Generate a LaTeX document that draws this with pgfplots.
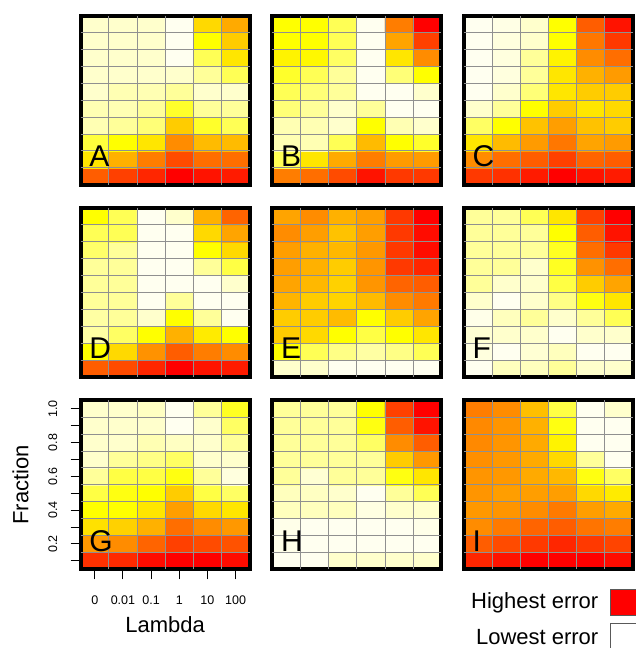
\documentclass[border=0pt]{standalone}
\usepackage{fontspec}
\setmainfont{Liberation Sans}
\usepackage{pgfplots}
\pgfplotsset{compat=1.18}
\definecolor{gridgray}{HTML}{909090}
\pgfplotsset{
 colormap={heat}{rgb255=(255,255,240) rgb255=(255,255,204) rgb255=(255,255,153) rgb255=(255,255,85) rgb255=(255,255,0) rgb255=(255,230,0) rgb255=(255,204,0) rgb255=(255,170,0) rgb255=(255,140,0) rgb255=(255,110,0) rgb255=(255,75,0) rgb255=(255,38,0) rgb255=(255,0,0)},
 panel/.style={
  anchor=south west, width=169pt, height=169pt, scale only axis,
  xmin=-0.5,xmax=5.5,ymin=-0.5,ymax=9.5,
  axis on top, axis line style={line width=4pt, black},
  xtick=\empty, ytick=\empty,
  extra x ticks={0.5,1.5,2.5,3.5,4.5},
  extra y ticks={0.5,1.5,2.5,3.5,4.5,5.5,6.5,7.5,8.5},
  extra x tick labels={}, extra y tick labels={},
  extra tick style={major tick length=0pt, grid=major},
  major grid style={gridgray, line width=0.9pt},
  colormap name=heat, point meta min=0, point meta max=12,
 },
 cells/.style={matrix plot*, mesh/cols=6, point meta=explicit},
}
\begin{document}
\begin{tikzpicture}
\path[use as bounding box] (0pt,0pt) rectangle (636pt,648pt);
% ---------- A ----------
\begin{axis}[panel, name=A, at={(80.7pt,463.3pt)}]
\addplot[cells] coordinates {
(0,0)[9.5] (1,0)[10.3] (2,0)[11] (3,0)[12] (4,0)[11.5] (5,0)[11.3]
(0,1)[5] (1,1)[6.8] (2,1)[8.5] (3,1)[10] (4,1)[9] (5,1)[9]
(0,2)[3.3] (1,2)[4] (2,2)[5] (3,2)[8] (4,2)[6.5] (5,2)[6.5]
(0,3)[1.5] (1,3)[2] (2,3)[2.5] (3,3)[6] (4,3)[3.5] (5,3)[3]
(0,4)[1.5] (1,4)[1.5] (2,4)[2] (3,4)[3.5] (4,4)[2] (5,4)[2]
(0,5)[1] (1,5)[1.5] (2,5)[1.5] (3,5)[2] (4,5)[1] (5,5)[1]
(0,6)[1] (1,6)[1] (2,6)[1] (3,6)[1] (4,6)[2] (5,6)[3]
(0,7)[1] (1,7)[1] (2,7)[1] (3,7)[0] (4,7)[3] (5,7)[5]
(0,8)[1] (1,8)[1] (2,8)[1] (3,8)[0] (4,8)[4] (5,8)[6]
(0,9)[1] (1,9)[1] (2,9)[1] (3,9)[0] (4,9)[5.5] (5,9)[7]
};
\end{axis}
% ---------- B ----------
\begin{axis}[panel, name=B, at={(272.3pt,463.3pt)}]
\addplot[cells] coordinates {
(0,0)[8.5] (1,0)[9] (2,0)[10] (3,0)[11.5] (4,0)[10.5] (5,0)[10.5]
(0,1)[3] (1,1)[5] (2,1)[7] (3,1)[8.5] (4,1)[7.5] (5,1)[7.5]
(0,2)[1.5] (1,2)[1.5] (2,2)[3] (3,2)[6.5] (4,2)[4] (5,2)[3.5]
(0,3)[1.5] (1,3)[1.5] (2,3)[1] (3,3)[4] (4,3)[1.5] (5,3)[1]
(0,4)[2.5] (1,4)[2] (2,4)[1] (3,4)[2] (4,4)[0] (5,4)[0]
(0,5)[3] (1,5)[2.5] (2,5)[2] (3,5)[0] (4,5)[0] (5,5)[1]
(0,6)[3.5] (1,6)[3] (2,6)[2] (3,6)[0] (4,6)[2.5] (5,6)[4]
(0,7)[4.5] (1,7)[4.3] (2,7)[2.8] (3,7)[0] (4,7)[5] (5,7)[8]
(0,8)[4] (1,8)[4] (2,8)[3] (3,8)[0] (4,8)[7.2] (5,8)[10.3]
(0,9)[4] (1,9)[4] (2,9)[3] (3,9)[0] (4,9)[8.5] (5,9)[12]
};
\end{axis}
% ---------- C ----------
\begin{axis}[panel, name=C, at={(463.9pt,463.3pt)}]
\addplot[cells] coordinates {
(0,0)[10.5] (1,0)[10.7] (2,0)[11.3] (3,0)[12] (4,0)[11.5] (5,0)[11.3]
(0,1)[8] (1,1)[9] (2,1)[9.5] (3,1)[10.3] (4,1)[9.3] (5,1)[9.5]
(0,2)[5] (1,2)[6.5] (2,2)[7.5] (3,2)[8.7] (4,2)[7.2] (5,2)[7.5]
(0,3)[2.8] (1,3)[4] (2,3)[6.3] (3,3)[7.4] (4,3)[6.3] (5,3)[6]
(0,4)[1] (1,4)[2] (2,4)[4] (3,4)[6] (4,4)[5] (5,4)[5.5]
(0,5)[0] (1,5)[1] (2,5)[2.5] (3,5)[5] (4,5)[6] (5,5)[6]
(0,6)[0] (1,6)[0.5] (2,6)[2] (3,6)[5] (4,6)[6.8] (5,6)[7.5]
(0,7)[0] (1,7)[0.5] (2,7)[2] (3,7)[4.5] (4,7)[8] (5,7)[9]
(0,8)[0] (1,8)[0.5] (2,8)[1] (3,8)[4] (4,8)[8.7] (5,8)[10.5]
(0,9)[0] (1,9)[0.3] (2,9)[1] (3,9)[4] (4,9)[9.5] (5,9)[11.5]
};
\end{axis}
% ---------- D ----------
\begin{axis}[panel, name=D, at={(80.7pt,271pt)}]
\addplot[cells] coordinates {
(0,0)[9.5] (1,0)[10] (2,0)[11] (3,0)[12] (4,0)[11.5] (5,0)[11.3]
(0,1)[4] (1,1)[5.5] (2,1)[7.8] (3,1)[9.5] (4,1)[8.5] (5,1)[8]
(0,2)[1.8] (1,2)[2.8] (2,2)[4] (3,2)[6.8] (4,2)[4.8] (5,2)[4]
(0,3)[1.8] (1,3)[2] (2,3)[1] (3,3)[4] (4,3)[2] (5,3)[0]
(0,4)[2] (1,4)[2] (2,4)[0] (3,4)[2] (4,4)[0] (5,4)[0]
(0,5)[2] (1,5)[2] (2,5)[0] (3,5)[0] (4,5)[0] (5,5)[1]
(0,6)[2] (1,6)[2] (2,6)[0] (3,6)[0] (4,6)[2] (5,6)[3.2]
(0,7)[2.7] (1,7)[2] (2,7)[0] (3,7)[0] (4,7)[4] (5,7)[5.5]
(0,8)[3] (1,8)[3] (2,8)[0] (3,8)[0] (4,8)[5.5] (5,8)[7.2]
(0,9)[4] (1,9)[3] (2,9)[0] (3,9)[1] (4,9)[6.8] (5,9)[9.3]
};
\end{axis}
% ---------- E ----------
\begin{axis}[panel, name=E, at={(272.3pt,271pt)}]
\addplot[cells] coordinates {
(0,0)[1] (1,0)[1] (2,0)[0] (3,0)[0] (4,0)[0] (5,0)[0]
(0,1)[4] (1,1)[3] (2,1)[2.3] (3,1)[1.8] (4,1)[2.3] (5,1)[3]
(0,2)[6] (1,2)[5.5] (2,2)[4] (3,2)[3.2] (4,2)[4] (5,2)[5]
(0,3)[6] (1,3)[6] (2,3)[6.5] (3,3)[4] (4,3)[6] (5,3)[7.2]
(0,4)[6.7] (1,4)[6] (2,4)[5.7] (3,4)[6.5] (4,4)[8] (5,4)[8.6]
(0,5)[7.2] (1,5)[6.6] (2,5)[5.8] (3,5)[7.7] (4,5)[9.3] (5,5)[9.5]
(0,6)[7.4] (1,6)[6.8] (2,6)[6] (3,6)[7.7] (4,6)[10.5] (5,6)[11]
(0,7)[7.4] (1,7)[6.8] (2,7)[6.6] (3,7)[7.6] (4,7)[10.5] (5,7)[11.7]
(0,8)[8] (1,8)[7.4] (2,8)[6.3] (3,8)[7.4] (4,8)[10.5] (5,8)[11.7]
(0,9)[7.2] (1,9)[8] (2,9)[6.8] (3,9)[7.4] (4,9)[10.5] (5,9)[12]
};
\end{axis}
% ---------- F ----------
\begin{axis}[panel, name=F, at={(463.9pt,271pt)}]
\addplot[cells] coordinates {
(0,0)[0] (1,0)[1.3] (2,0)[1.3] (3,0)[2] (4,0)[1] (5,0)[1]
(0,1)[0.5] (1,1)[0] (2,1)[0.8] (3,1)[1.3] (4,1)[0] (5,1)[0]
(0,2)[0.8] (1,2)[1] (2,2)[1] (3,2)[0] (4,2)[1] (5,2)[1]
(0,3)[0.2] (1,3)[1.3] (2,3)[2] (3,3)[1] (4,3)[2] (5,3)[3]
(0,4)[1] (1,4)[0] (2,4)[1] (3,4)[2.3] (4,4)[3.8] (5,4)[5]
(0,5)[2] (1,5)[1] (2,5)[1] (3,5)[3.2] (4,5)[6] (5,5)[7.2]
(0,6)[2] (1,6)[2] (2,6)[1] (3,6)[3.6] (4,6)[7.8] (5,6)[9]
(0,7)[2] (1,7)[2] (2,7)[2] (3,7)[3.6] (4,7)[9] (5,7)[10.5]
(0,8)[2] (1,8)[2] (2,8)[2] (3,8)[4] (4,8)[9.5] (5,8)[11.5]
(0,9)[2] (1,9)[2] (2,9)[3] (3,9)[5] (4,9)[10.3] (5,9)[12]
};
\end{axis}
% ---------- G ----------
\begin{axis}[panel, name=G, at={(80.7pt,78.7pt)},
  xtick={0,1,2,3,4,5}, xticklabels={0,0.01,0.1,1,10,100},
  ytick={0,1,2,3,4,5,6,7,8,9}, yticklabels={,0.2,,0.4,,0.6,,0.8,,1.0},
  tick align=outside, tick pos=left, major tick length=10pt,
  tick style={line width=1pt, black},
  ticklabel style={font=\fontsize{12.5}{14}\selectfont},
  yticklabel style={rotate=90, anchor=south},
  xticklabel shift=13pt, yticklabel shift=10pt]
\addplot[cells] coordinates {
(0,0)[10.7] (1,0)[10.9] (2,0)[11.7] (3,0)[12] (4,0)[12] (5,0)[11.7]
(0,1)[7.6] (1,1)[8] (2,1)[9.3] (3,1)[10.3] (4,1)[10] (5,1)[9.8]
(0,2)[5.2] (1,2)[5.8] (2,2)[6.8] (3,2)[9] (4,2)[8] (5,2)[7.6]
(0,3)[4] (1,3)[4] (2,3)[5] (3,3)[7.4] (4,3)[5.5] (5,3)[5]
(0,4)[3.2] (1,4)[3.8] (2,4)[4] (3,4)[6] (4,4)[3.2] (5,4)[2.8]
(0,5)[2] (1,5)[3.2] (2,5)[3.2] (3,5)[3.8] (4,5)[2] (5,5)[0.5]
(0,6)[1] (1,6)[2] (2,6)[2.3] (3,6)[2.8] (4,6)[1] (5,6)[1]
(0,7)[1] (1,7)[1] (2,7)[1.5] (3,7)[1.2] (4,7)[1] (5,7)[2]
(0,8)[1] (1,8)[1] (2,8)[1] (3,8)[0] (4,8)[1] (5,8)[2.8]
(0,9)[1] (1,9)[1] (2,9)[1.2] (3,9)[0] (4,9)[2] (5,9)[3.6]
};
\end{axis}
% ---------- H ----------
\begin{axis}[panel, name=H, at={(272.3pt,78.7pt)}]
\addplot[cells] coordinates {
(0,0)[0] (1,0)[0] (2,0)[1] (3,0)[1] (4,0)[1] (5,0)[1]
(0,1)[0.2] (1,1)[0] (2,1)[0] (3,1)[0] (4,1)[0] (5,1)[0]
(0,2)[0.2] (1,2)[0] (2,2)[0] (3,2)[0] (4,2)[0] (5,2)[0.2]
(0,3)[1.3] (1,3)[1.3] (2,3)[1.3] (3,3)[0.4] (4,3)[1] (5,3)[1]
(0,4)[1.3] (1,4)[1.2] (2,4)[1] (3,4)[0] (4,4)[2] (5,4)[3]
(0,5)[2] (1,5)[0.8] (2,5)[2] (3,5)[2] (4,5)[3.8] (5,5)[5]
(0,6)[2] (1,6)[2] (2,6)[2] (3,6)[2] (4,6)[6] (5,6)[7.6]
(0,7)[2] (1,7)[2] (2,7)[2] (3,7)[2.8] (4,7)[8] (5,7)[9.5]
(0,8)[2] (1,8)[2] (2,8)[2] (3,8)[3.8] (4,8)[9.5] (5,8)[11.5]
(0,9)[2] (1,9)[2] (2,9)[2] (3,9)[4] (4,9)[10.3] (5,9)[12]
};
\end{axis}
% ---------- I ----------
\begin{axis}[panel, name=I, at={(463.9pt,78.7pt)}]
\addplot[cells] coordinates {
(0,0)[11] (1,0)[11.5] (2,0)[12] (3,0)[12] (4,0)[12] (5,0)[11.7]
(0,1)[9.5] (1,1)[10] (2,1)[10.5] (3,1)[11] (4,1)[10.5] (5,1)[10.2]
(0,2)[8] (1,2)[8.6] (2,2)[9.3] (3,2)[9.5] (4,2)[8.8] (5,2)[8.5]
(0,3)[7.6] (1,3)[7.7] (2,3)[8] (3,3)[8.6] (4,3)[7.4] (5,3)[7]
(0,4)[7.7] (1,4)[7.4] (2,4)[7.4] (3,4)[7.4] (4,4)[5.5] (5,4)[4.8]
(0,5)[7.7] (1,5)[7.6] (2,5)[7] (3,5)[6.6] (4,5)[3.8] (5,5)[2.8]
(0,6)[7.9] (1,6)[7.6] (2,6)[7] (3,6)[5.5] (4,6)[2] (5,6)[0]
(0,7)[8.1] (1,7)[7.7] (2,7)[7] (3,7)[4.5] (4,7)[0] (5,7)[0]
(0,8)[8.1] (1,8)[7.7] (2,8)[6.8] (3,8)[3.8] (4,8)[0] (5,8)[0]
(0,9)[8.5] (1,9)[8] (2,9)[6.4] (3,9)[3.2] (4,9)[0] (5,9)[1]
};
\end{axis}
% panel letters
\foreach \p in {A,B,C,D,E,F,G,H,I}{
  \node[anchor=base west, inner sep=0pt, font=\fontsize{30}{30}\selectfont]
    at ([xshift=8.5pt,yshift=18pt]\p.south west) {\p};
}
% axis titles
\node[anchor=base, inner sep=0pt, font=\fontsize{22}{26}\selectfont] at (165.2pt,15pt) {Lambda};
\node[rotate=90, anchor=base, inner sep=0pt, font=\fontsize{22}{26}\selectfont] at (28.3pt,163.2pt) {Fraction};
% legend
\node[anchor=base east, inner sep=0pt, font=\fontsize{22}{26}\selectfont] at (598.5pt,39.7pt) {Highest error};
\node[anchor=base east, inner sep=0pt, font=\fontsize{22}{26}\selectfont] at (598.5pt,3.7pt) {Lowest error};
\draw[draw=gray!70!black, line width=0.8pt, fill=red] (610pt,32.3pt) rectangle (638pt,59pt);
\draw[draw=gray!70!black, line width=0.8pt, fill=white] (610pt,-3pt) rectangle (638pt,24.7pt);
\end{tikzpicture}
\end{document}
